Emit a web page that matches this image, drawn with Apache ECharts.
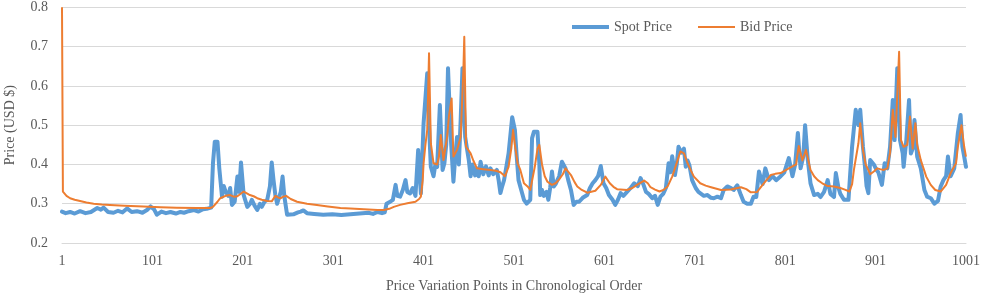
<!DOCTYPE html>
<html>
<head>
<meta charset="utf-8">
<script src="https://cdn.jsdelivr.net/npm/echarts@6/dist/echarts.min.js"></script>
<style>
html,body{margin:0;padding:0;background:#fff;}
#chart{width:981px;height:296px;}
</style>
</head>
<body>
<div id="chart"></div>
<script>
// Chronological index of price variation points (x) and values (USD)
const spotIdx = [1,5,10,15,21,27,33,40,44,47,52,58,63,68,73,78,84,90,95,99,103,106,111,116,121,127,132,136,141,147,152,157,161,166,168,170,173,175,178,180,182,185,187,189,192,195,197,199,202,206,209,211,214,217,220,222,225,228,231,233,235,237,239,241,243,245,247,250,257,262,265,268,272,280,290,300,310,320,330,340,345,350,355,358,360,364,367,370,372,375,378,381,383,386,389,392,395,398,401,403,405,407,409,412,414,416,419,422,424,426,428,431,434,436,438,440,442,444,447,449,451,453,455,458,460,462,464,467,470,473,475,478,482,484,486,488,490,493,495,499,502,504,506,509,512,515,517,519,521,523,527,529,530,532,534,537,539,541,543,545,547,549,551,554,558,561,564,567,570,573,577,582,585,588,591,594,597,600,603,606,610,613,616,619,622,626,630,634,638,641,644,647,650,654,657,660,663,666,669,672,674,676,679,681,683,686,689,691,693,695,698,700,702,705,707,711,715,719,722,726,730,733,737,741,744,748,752,755,759,763,766,769,772,776,779,783,787,791,796,800,805,809,812,815,818,821,823,826,829,833,837,840,844,848,851,855,857,860,862,866,871,873,875,879,882,884,887,889,891,893,895,899,902,904,908,911,914,917,920,922,925,928,931,932,935,938,940,942,944,947,951,955,958,962,966,970,973,976,979,981,984,988,992,995,997,999,1001];
const spotVal = [0.280,0.276,0.279,0.275,0.281,0.276,0.279,0.289,0.285,0.290,0.279,0.277,0.282,0.278,0.288,0.279,0.281,0.277,0.284,0.293,0.285,0.272,0.280,0.276,0.279,0.275,0.279,0.277,0.281,0.284,0.280,0.286,0.287,0.290,0.403,0.458,0.458,0.390,0.318,0.345,0.331,0.320,0.340,0.297,0.305,0.369,0.330,0.405,0.322,0.292,0.300,0.310,0.295,0.284,0.300,0.292,0.305,0.310,0.344,0.405,0.360,0.322,0.300,0.297,0.330,0.369,0.318,0.272,0.273,0.278,0.280,0.283,0.276,0.274,0.272,0.273,0.271,0.273,0.275,0.277,0.274,0.279,0.276,0.278,0.300,0.305,0.310,0.348,0.320,0.318,0.335,0.360,0.330,0.326,0.340,0.320,0.437,0.326,0.505,0.568,0.632,0.500,0.394,0.370,0.400,0.394,0.551,0.386,0.403,0.450,0.645,0.470,0.356,0.420,0.470,0.400,0.513,0.645,0.470,0.440,0.411,0.370,0.400,0.372,0.390,0.370,0.407,0.375,0.395,0.372,0.390,0.375,0.386,0.360,0.327,0.345,0.360,0.400,0.428,0.520,0.488,0.420,0.360,0.335,0.310,0.300,0.297,0.310,0.467,0.483,0.483,0.403,0.322,0.335,0.320,0.330,0.310,0.340,0.382,0.344,0.350,0.360,0.370,0.407,0.390,0.360,0.335,0.297,0.305,0.305,0.315,0.322,0.340,0.352,0.360,0.370,0.396,0.352,0.340,0.322,0.310,0.297,0.310,0.327,0.320,0.330,0.340,0.352,0.345,0.365,0.350,0.330,0.325,0.314,0.320,0.297,0.318,0.325,0.340,0.403,0.380,0.421,0.373,0.400,0.445,0.430,0.440,0.394,0.410,0.398,0.360,0.350,0.340,0.330,0.327,0.320,0.322,0.315,0.314,0.318,0.314,0.335,0.344,0.340,0.335,0.347,0.322,0.305,0.300,0.300,0.318,0.317,0.382,0.350,0.390,0.360,0.370,0.360,0.370,0.380,0.416,0.370,0.400,0.480,0.390,0.420,0.500,0.411,0.352,0.322,0.325,0.317,0.330,0.360,0.325,0.317,0.378,0.340,0.325,0.310,0.310,0.380,0.445,0.539,0.500,0.539,0.445,0.400,0.345,0.327,0.411,0.400,0.386,0.380,0.348,0.403,0.390,0.445,0.564,0.462,0.645,0.462,0.428,0.394,0.462,0.564,0.428,0.440,0.513,0.420,0.390,0.335,0.318,0.314,0.300,0.307,0.344,0.360,0.370,0.420,0.370,0.390,0.480,0.526,0.445,0.420,0.394];

const bidIdx = [1,2,3,6,10,15,21,28,36,45,54,70,91,110,128,150,165,168,173,176,178,182,187,191,195,198,202,205,208,213,217,222,228,233,237,240,243,246,249,254,261,272,283,295,309,320,335,350,357,363,368,375,383,392,396,398,400,401,403,405,407,409,412,416,418,420,423,425,427,429,432,434,438,442,445,446,448,453,456,460,467,475,481,486,491,495,498,500,502,505,508,512,516,519,521,524,527,529,532,535,538,543,547,551,555,558,564,568,571,576,582,591,597,602,607,611,615,626,632,637,645,649,652,657,662,667,671,676,682,685,689,693,697,700,707,713,719,730,741,752,758,763,770,776,781,785,790,796,805,813,816,820,824,829,833,837,842,848,855,862,867,872,875,877,882,884,887,890,893,895,899,903,906,910,914,917,920,923,927,929,932,936,939,942,945,947,951,954,957,962,967,973,979,984,990,992,996,999,1001];
const bidVal = [0.800,0.331,0.327,0.320,0.314,0.310,0.307,0.303,0.300,0.298,0.297,0.295,0.293,0.291,0.290,0.289,0.289,0.292,0.305,0.314,0.317,0.320,0.322,0.318,0.319,0.324,0.331,0.327,0.323,0.319,0.314,0.310,0.307,0.306,0.320,0.316,0.314,0.318,0.320,0.312,0.305,0.300,0.297,0.293,0.289,0.288,0.286,0.284,0.284,0.287,0.292,0.297,0.301,0.305,0.312,0.318,0.360,0.403,0.450,0.488,0.683,0.454,0.403,0.400,0.420,0.475,0.411,0.415,0.470,0.522,0.568,0.420,0.437,0.470,0.640,0.725,0.445,0.428,0.410,0.390,0.388,0.386,0.384,0.380,0.370,0.394,0.440,0.488,0.450,0.403,0.386,0.352,0.344,0.335,0.331,0.394,0.440,0.450,0.400,0.370,0.356,0.348,0.352,0.362,0.375,0.390,0.373,0.355,0.344,0.335,0.328,0.333,0.348,0.369,0.352,0.343,0.337,0.335,0.340,0.348,0.359,0.352,0.342,0.336,0.331,0.336,0.344,0.369,0.411,0.433,0.428,0.403,0.383,0.369,0.352,0.346,0.342,0.335,0.336,0.342,0.337,0.329,0.330,0.348,0.362,0.373,0.376,0.378,0.390,0.400,0.447,0.410,0.437,0.386,0.370,0.360,0.352,0.345,0.344,0.340,0.336,0.331,0.350,0.386,0.454,0.505,0.437,0.400,0.386,0.375,0.382,0.390,0.388,0.386,0.390,0.430,0.539,0.470,0.687,0.462,0.445,0.450,0.522,0.440,0.505,0.450,0.411,0.390,0.369,0.348,0.335,0.331,0.348,0.378,0.403,0.445,0.500,0.445,0.420];

const yTicks = [0.2, 0.3, 0.4, 0.5, 0.6, 0.7, 0.8];
const xTickLabels = [1, 101, 201, 301, 401, 501, 601, 701, 801, 901, 1001];

// x axis runs from 0 to 1000 internally (point index minus one)
const toPairs = (idx, val) => idx.map((x, i) => [x - 1, val[i]]);

const FONT = '"Liberation Serif", "Times New Roman", serif';
const TXT = '#595959';
const legendText = {fontFamily: FONT, fontSize: 14, color: TXT};

const chart = echarts.init(document.getElementById('chart'), null, {renderer: 'canvas'});
chart.setOption({
  animation: false,
  backgroundColor: '#ffffff',
  grid: {left: 62, right: 15, top: 7.3, bottom: 53, containLabel: false, outerBoundsMode: 'none'},
  legend: [
    {
      left: 572, top: 20, padding: 0,
      icon: 'rect', itemWidth: 37, itemHeight: 4,
      textStyle: legendText,
      data: ['Spot Price']
    },
    {
      left: 698, top: 20, padding: 0,
      icon: 'rect', itemWidth: 37, itemHeight: 2,
      textStyle: legendText,
      data: ['Bid Price']
    }
  ],
  xAxis: {
    type: 'value', min: 0, max: 1000, interval: 100,
    name: 'Price Variation Points in Chronological Order',
    nameLocation: 'middle', nameGap: 36,
    nameTextStyle: {fontFamily: FONT, fontSize: 14, color: TXT},
    axisLine: {show: true, lineStyle: {color: '#D9D9D9', width: 1}},
    axisTick: {show: false},
    splitLine: {show: false},
    axisLabel: {
      fontFamily: FONT, fontSize: 14, color: TXT, margin: 11,
      formatter: v => { const l = v + 1; return xTickLabels.indexOf(l) >= 0 ? String(l) : ''; }
    }
  },
  yAxis: {
    type: 'value', min: yTicks[0], max: yTicks[yTicks.length - 1], interval: 0.1,
    name: 'Price (USD $)',
    nameLocation: 'middle', nameGap: 45, nameRotate: 90,
    nameTextStyle: {fontFamily: FONT, fontSize: 14, color: TXT},
    axisLine: {show: false},
    axisTick: {show: false},
    splitLine: {show: true, lineStyle: {color: '#D9D9D9', width: 1}},
    axisLabel: {
      fontFamily: FONT, fontSize: 14, color: TXT, margin: 14,
      formatter: v => v.toFixed(1)
    }
  },
  series: [
    {
      name: 'Spot Price', type: 'line',
      data: toPairs(spotIdx, spotVal),
      symbol: 'none', showSymbol: false,
      lineStyle: {color: '#5B9BD5', width: 4, join: 'round', cap: 'round'},
      itemStyle: {color: '#5B9BD5'}
    },
    {
      name: 'Bid Price', type: 'line',
      data: toPairs(bidIdx, bidVal),
      symbol: 'none', showSymbol: false,
      lineStyle: {color: '#ED7D31', width: 2, join: 'round'},
      itemStyle: {color: '#ED7D31'}
    }
  ]
});
</script>
</body>
</html>
